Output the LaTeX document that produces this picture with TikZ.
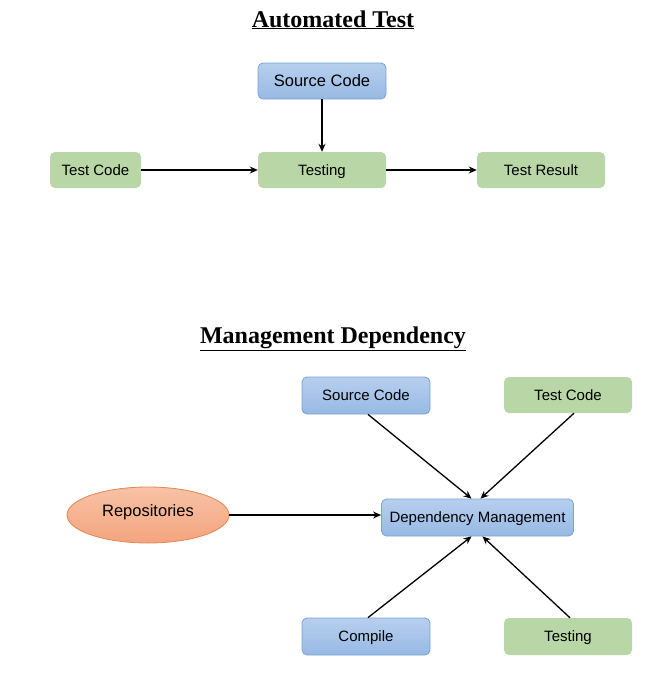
\documentclass[tikz,border=0pt]{standalone}
\usepackage{fontspec}
\setmainfont{Liberation Serif}
\setsansfont{Liberation Sans}
\usetikzlibrary{arrows.meta,shapes.geometric}
\definecolor{blueTop}{HTML}{B7CFEE}
\definecolor{blueBot}{HTML}{97B9E4}
\definecolor{blueLine}{HTML}{7AA1D8}
\definecolor{greenFill}{HTML}{B9D7A6}
\definecolor{orangeTop}{HTML}{F9C2A6}
\definecolor{orangeBot}{HTML}{F3A47E}
\definecolor{orangeLine}{HTML}{E3854F}

\begin{document}
\begin{tikzpicture}[x=1pt,y=-1pt,
  every node/.style={font=\sffamily\fontsize{15}{17}\selectfont,text height=12pt,text depth=1.2pt},
  bigtext/.style={font=\sffamily\fontsize{16.5}{19}\selectfont,text height=13pt,text depth=1.2pt},
  title/.style={font=\rmfamily\bfseries\fontsize{24}{28}\selectfont,text height=16pt,text depth=6pt},
  bluebox/.style={rectangle,rounded corners=5pt,draw=blueLine,line width=0.8pt,
    top color=blueTop,bottom color=blueBot,minimum width=128pt,minimum height=36pt},
  greenbox/.style={rectangle,rounded corners=5pt,fill=greenFill,
    minimum width=128pt,minimum height=36pt},
  repobox/.style={ellipse,draw=orangeLine,line width=0.8pt,top color=orangeTop,
    bottom color=orangeBot,minimum width=162pt,minimum height=56pt,inner sep=0pt},
  conn/.style={-{Stealth[length=8pt,width=7pt]},line width=1.3pt}]
\useasboundingbox (0,0) rectangle (659,673);
% Automated Test
\node[title] (tAuto) at (333,22) {\underline{Automated Test}};
\node[bluebox,bigtext] (srcA) at (322,81) {Source Code};
\node[greenbox] (testA) at (322,170) {Testing};
\node[greenbox,minimum width=91pt] (codeA) at (95.5,170) {Test Code};
\node[greenbox] (resA) at (541,170) {Test Result};
\draw[conn] (srcA) -- (testA);
\draw[conn] (codeA) -- (testA);
\draw[conn] (testA) -- (resA);
% Management Dependency
\node[title] (tDep) at (333,338) {\underline{Management Dependency}};
\node[bluebox,minimum height=37pt] (srcB) at (366,395.5) {Source Code};
\node[greenbox] (codeB) at (568,395) {Test Code};
\node[bluebox,minimum width=192pt,minimum height=37pt] (dep) at (477.5,517.5) {Dependency Management};
\node[repobox,bigtext,text depth=10pt] (repo) at (148,515) {Repositories};
\node[bluebox,minimum height=37pt] (comp) at (366,636.5) {Compile};
\node[greenbox,minimum height=37pt] (testB) at (568,636.5) {Testing};
\draw[conn] (repo.east) -- (repo.east -| dep.west);
\draw[conn] ([xshift=2pt]srcB.south) -- ([xshift=-6pt]dep.north);
\draw[conn] ([xshift=6pt]codeB.south) -- ([xshift=3pt]dep.north);
\draw[conn] ([xshift=2pt]comp.north) -- ([xshift=-6pt]dep.south);
\draw[conn] ([xshift=2pt]testB.north) -- ([xshift=5pt]dep.south);
\end{tikzpicture}
\end{document}
